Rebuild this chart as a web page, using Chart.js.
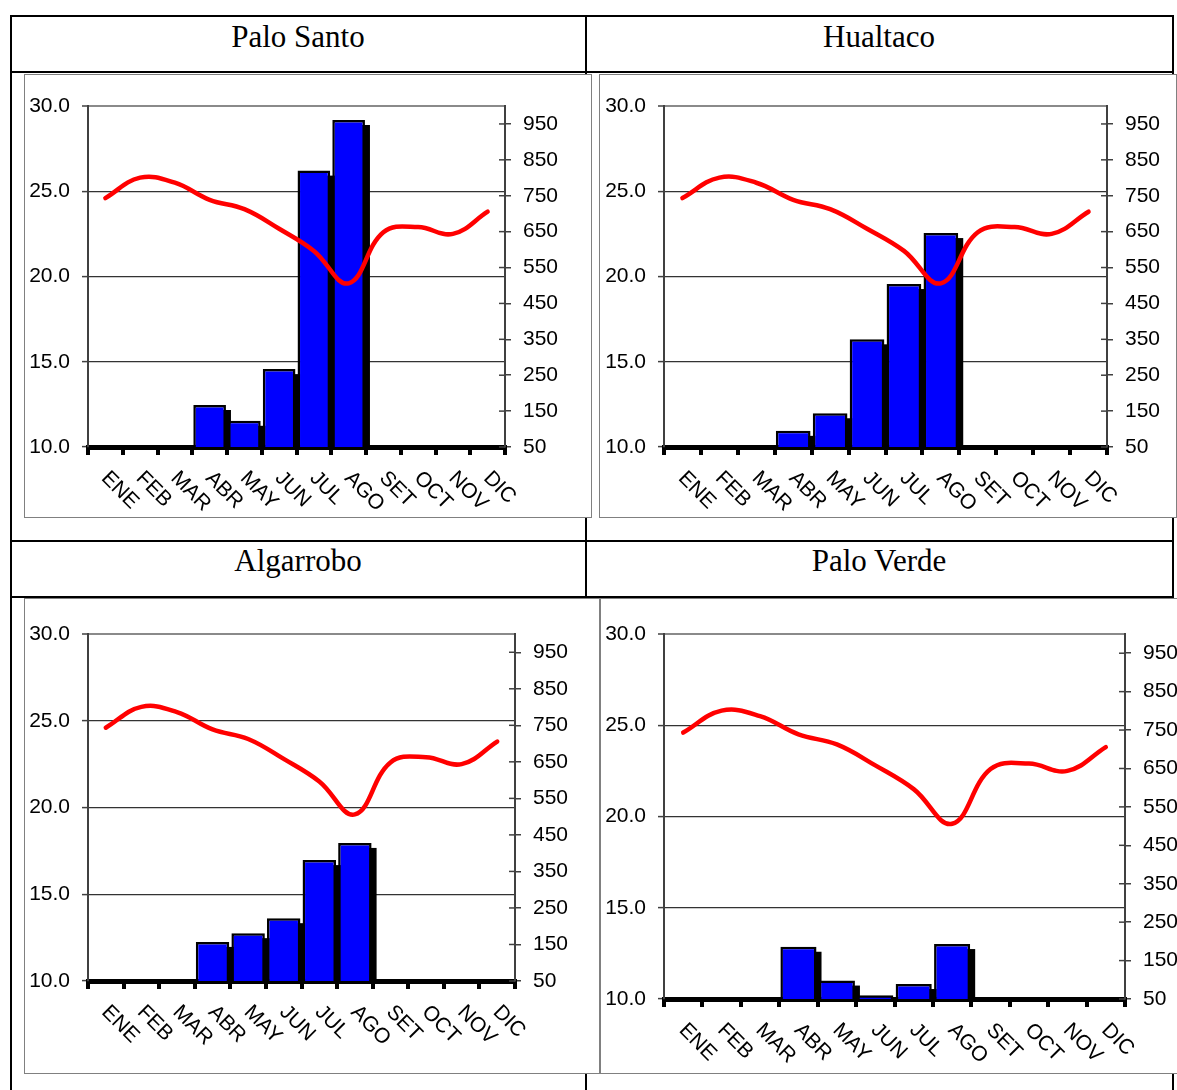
<!DOCTYPE html>
<html><head><meta charset="utf-8">
<script src="https://cdn.jsdelivr.net/npm/chart.js@4/dist/chart.umd.min.js"></script>
<style>
html,body{margin:0;padding:0;background:#fff;width:1177px;height:1090px;overflow:hidden;position:relative;}
.ln{position:absolute;background:#000;}
.title{position:absolute;font-family:"Liberation Serif","Times New Roman",serif;font-size:31px;line-height:31px;text-align:center;color:#000;white-space:nowrap;}
.frame{position:absolute;border:1px solid #808080;background:#fff;box-sizing:border-box;overflow:hidden;}
.frame canvas{position:absolute;left:0;top:0;}
</style></head><body>

<div class="ln" style="left:10px;top:15px;width:1164px;height:2px"></div>
<div class="ln" style="left:10px;top:15px;width:2px;height:1075px"></div>
<div class="ln" style="left:1172px;top:15px;width:2px;height:1075px"></div>
<div class="ln" style="left:585px;top:15px;width:2px;height:1075px"></div>
<div class="ln" style="left:10px;top:71px;width:1164px;height:2px"></div>
<div class="ln" style="left:10px;top:540px;width:1164px;height:2px"></div>
<div class="ln" style="left:10px;top:596px;width:1164px;height:2px"></div>

<div class="title" style="left:10px;width:576px;top:21px">Palo Santo</div>
<div class="title" style="left:586px;width:586px;top:21px">Hualtaco</div>
<div class="title" style="left:10px;width:576px;top:545px">Algarrobo</div>
<div class="title" style="left:586px;width:586px;top:545px">Palo Verde</div>

<div class="frame" style="left:24px;top:74px;width:568px;height:444px"><canvas id="c1" width="566" height="442"></canvas></div>
<div class="frame" style="left:599px;top:74px;width:578px;height:444px"><canvas id="c2" width="576" height="442"></canvas></div>
<div class="frame" style="left:24px;top:598px;width:576px;height:476px"><canvas id="c3" width="574" height="474"></canvas></div>
<div class="frame" style="left:600px;top:598px;width:590px;height:476px"><canvas id="c4" width="588" height="474"></canvas></div>

<script>
const months = ['ENE','FEB','MAR','ABR','MAY','JUN','JUL','AGO','SET','OCT','NOV','DIC'];
const temperature = [24.6, 25.8, 25.5, 24.5, 23.95, 22.8, 21.5, 19.6, 22.6, 22.9, 22.5, 23.8];
const paloSanto = [0, 0, 0, 167, 123, 267, 820, 961, 0, 0, 0, 0];
const hualtaco  = [0, 0, 0, 95, 144, 350, 504, 646, 0, 0, 0, 0];
const algarrobo = [0, 0, 0, 157, 181, 222, 381, 428, 0, 0, 0, 0];
const paloVerde = [0, 0, 0, 186, 98, 60, 89, 193, 0, 0, 0, 0];
const leftTicks = [10, 15, 20, 25, 30];
const rightTicks = [50, 150, 250, 350, 450, 550, 650, 750, 850, 950];

const FONT = '"Liberation Sans", Arial, sans-serif';
const FS = 21;

const barShadow = {
  id: 'barShadow',
  beforeDatasetsDraw(chart) {
    const idx = chart.data.datasets.findIndex(d => d.type === 'bar');
    const meta = chart.getDatasetMeta(idx);
    const ctx = chart.ctx, area = chart.chartArea;
    const min = chart.scales.y1.min;
    ctx.save();
    ctx.fillStyle = '#000';
    meta.data.forEach((el, i) => {
      const v = chart.data.datasets[idx].data[i];
      if (v == null || v <= min) return;
      const p = el.getProps(['x', 'y', 'base', 'width'], true);
      const l = p.x - p.width / 2 + 5, t = p.y + 5, b = Math.min(p.base, area.bottom);
      if (b > t) ctx.fillRect(l, t, p.width, b - t);
    });
    ctx.restore();
  }
};

const xLabels = {
  id: 'xLabels',
  afterDraw(chart) {
    const xs = chart.scales.x, ctx = chart.ctx;
    ctx.save();
    ctx.font = FS + 'px ' + FONT;
    ctx.fillStyle = '#000';
    ctx.textAlign = 'left';
    ctx.textBaseline = 'alphabetic';
    months.forEach((m, i) => {
      const cx = xs.getPixelForValue(i);
      ctx.save();
      ctx.translate(cx - 5, chart.chartArea.bottom + 32);
      ctx.rotate(Math.PI / 4);
      ctx.fillText(m, 0, 0);
      ctx.restore();
    });
    ctx.restore();
  }
};

const innerTicks = {
  id: 'innerTicks',
  afterDraw(chart) {
    const s = chart.scales.y1, ctx = chart.ctx;
    ctx.save();
    ctx.strokeStyle = '#404040';
    ctx.lineWidth = 1.5;
    s.ticks.forEach(t => {
      const y = s.getPixelForValue(t.value);
      ctx.beginPath();
      ctx.moveTo(s.left - 6, y);
      ctx.lineTo(s.left, y);
      ctx.stroke();
    });
    ctx.restore();
  }
};

function makeChart(id, bars, padTop, leftW, rightW, xH) {
  return new Chart(document.getElementById(id), {
    data: {
      labels: months,
      datasets: [
        {
          type: 'line', data: temperature, yAxisID: 'y', order: 0,
          borderColor: '#ff0000', borderWidth: 4.5, pointRadius: 0, tension: 0.4,
          borderCapStyle: 'round', borderJoinStyle: 'round',
          fill: false, clip: false
        },
        {
          type: 'bar', data: bars, yAxisID: 'y1', order: 1,
          backgroundColor: '#0000ff', borderColor: '#000', borderWidth: 2.5,
          barPercentage: 0.94, categoryPercentage: 1,
          clip: {left: false, top: false, right: false, bottom: 0}
        }
      ]
    },
    options: {
      responsive: false, animation: false, devicePixelRatio: 1,
      layout: {padding: {top: padTop, left: 0, right: 0, bottom: 0}},
      plugins: {legend: {display: false}, tooltip: {enabled: false}, title: {display: false}},
      scales: {
        x: {
          type: 'category', offset: true,
          grid: {offset: true, drawOnChartArea: false, drawTicks: true, tickLength: 8, lineWidth: 4, color: '#000'},
          border: {display: true, color: '#000', width: 5},
          ticks: {color: 'rgba(0,0,0,0)', autoSkip: false, maxRotation: 0, minRotation: 0, font: {size: FS, family: FONT}},
          afterFit(s) { s.height = xH; }
        },
        y: {
          type: 'linear', position: 'left', min: 10, max: 30,
          afterBuildTicks(s) { s.ticks = leftTicks.map(v => ({value: v})); },
          grid: {
            color: c => (c.tick && c.tick.value === 30) ? '#8a8a8a' : '#333',
            lineWidth: c => (c.tick && c.tick.value === 30) ? 2 : 1.2,
            tickColor: '#404040', tickWidth: 1.5, tickLength: 6, drawTicks: true
          },
          border: {display: true, color: '#404040', width: 2},
          ticks: {color: '#000', font: {size: FS, family: FONT}, padding: 12, callback: v => Number(v).toFixed(1)},
          afterFit(s) { s.width = leftW; }
        },
        y1: {
          type: 'linear', position: 'right', min: 50, max: 1000,
          afterBuildTicks(s) { s.ticks = rightTicks.map(v => ({value: v})); },
          grid: {drawOnChartArea: false, drawTicks: true, tickLength: 6, color: '#404040', lineWidth: 1.5},
          border: {display: true, color: '#404040', width: 2},
          ticks: {color: '#000', font: {size: FS, family: FONT}, padding: 12, callback: v => String(v)},
          afterFit(s) { s.width = rightW; }
        }
      }
    },
    plugins: [barShadow, xLabels, innerTicks]
  });
}

makeChart('c1', paloSanto, 31, 63, 86, 70);
makeChart('c2', hualtaco, 31, 64, 69, 70);
makeChart('c3', algarrobo, 35, 63, 84, 92);
makeChart('c4', paloVerde, 35, 63, 64, 74);
</script>
</body></html>
